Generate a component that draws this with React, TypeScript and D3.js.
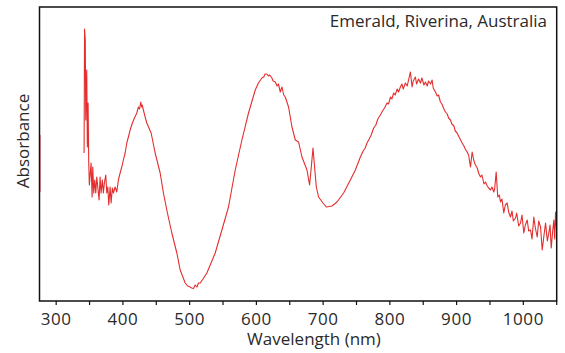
import React from "react";
import * as d3 from "d3";

const title = "Emerald, Riverina, Australia";
const xLabel = "Wavelength (nm)";
const yLabel = "Absorbance";
const xTicks = [300, 400, 500, 600, 700, 800, 900, 1000];
const xMinorTicks = [350, 450, 550, 650, 750, 850, 950, 1050];

// short segment visible on the left frame edge
const edgeWavelength = [275.4, 275.4];
const edgeAbsorbance = [1.66, 1.09];

const wavelength = [
  341.8, 342.5, 343.6, 344.3, 345.8, 346.7, 347.8, 348.8, 349.7, 352.3, 353.8, 354.8, 356.3, 357.8, 359.3, 360.8,
  364.3, 365.8, 367.3, 369.2, 370.7, 372.2, 374.3, 375.8, 377.3, 378.8, 380.8, 382.3, 384.2, 385.7, 388.3, 390.8,
  393.2, 395.8, 398.3, 400.7, 403.3, 405.8, 408.2, 410.8, 414.2, 417.2, 420.8, 423.2, 425, 426.8, 428, 428.8, 430.7,
  433.3, 435.8, 442.3, 448.3, 455.8, 460.7, 466.7, 473.3, 480.8, 485.8, 493.3, 497, 500.8, 503, 505.7, 508.3, 511, 513.2,
  515.8, 520, 525.8, 538.3, 548.3, 558.2, 568.3, 578.3, 588.2, 598.3, 603, 608.3, 611, 613, 615.8, 618, 620, 623.3,
  625, 628.3, 631, 633, 635.8, 638.3, 641, 643.3, 648.2, 653.3, 658.3, 663.2, 668.3, 675.8, 679.7, 682.3, 684.8,
  687.2, 689.8, 693.2, 699.8, 704.8, 713.3, 720.8, 730.7, 740.8, 748.3, 755.8, 760, 763, 765.8, 769, 772, 775.7,
  779, 782, 785.8, 789, 792, 795.8, 798, 801, 803, 805.7, 808, 811, 813, 815.8, 818, 820, 823.3, 826, 828, 830.8,
  833.3, 835, 838.3, 840, 843, 845.8, 848, 851, 853.3, 856, 858, 861, 863.3, 865, 868.3, 871, 873, 875.8, 878, 881,
  883.3, 886, 888, 890.8, 893, 896, 898, 900.8, 903, 906, 908.3, 911, 913, 915.8, 918, 920.8, 923.3, 926, 928.3,
  931, 933, 935.8, 938, 941, 943.3, 946, 948, 950.8, 953, 955.7, 957, 959.3, 961.7, 964, 965.8, 968, 970.7, 973,
  975.8, 978, 980.8, 983, 985, 988.3, 990, 993, 995.8, 998, 1000.7, 1003, 1005.8, 1008, 1010.8, 1013, 1015.7, 1018,
  1020.8, 1023, 1025.8, 1028.3, 1031, 1033.3, 1036, 1038.2, 1040, 1041.8, 1044, 1045.7, 1047, 1048.3, 1050,
];

const absorbance = [
  1.48, 2.72, 2.61, 1.81, 2.31, 1.54, 1.98, 1.38, 1.16, 1.38, 1.04, 1.34, 1.08, 1.21, 1.08, 1.24,
  1.01, 1.24, 1.08, 1.21, 1.08, 1.18, 1.26, 1.08, 1.14, 0.96, 1.14, 0.98, 1.13, 1.08, 1.14, 1.09,
  1.21, 1.28, 1.34, 1.41, 1.48, 1.58, 1.64, 1.71, 1.78, 1.83, 1.88, 1.94, 1.92, 1.99, 1.94, 1.96, 1.91,
  1.84, 1.78, 1.68, 1.48, 1.28, 1.08, 0.88, 0.68, 0.48, 0.31, 0.18, 0.15, 0.14, 0.13, 0.125, 0.16, 0.14, 0.18,
  0.18, 0.22, 0.28, 0.48, 0.71, 0.94, 1.31, 1.61, 1.88, 2.11, 2.18, 2.23, 2.24, 2.27, 2.27, 2.25, 2.26, 2.23,
  2.2, 2.19, 2.15, 2.17, 2.09, 2.14, 2.06, 2.04, 1.94, 1.74, 1.61, 1.59, 1.44, 1.31, 1.16, 1.34, 1.53,
  1.34, 1.14, 1.04, 0.98, 0.94, 0.95, 0.99, 1.08, 1.21, 1.31, 1.44, 1.5, 1.53, 1.58, 1.62, 1.66, 1.73,
  1.76, 1.82, 1.86, 1.9, 1.93, 1.98, 1.97, 2.04, 2.02, 2.08, 2.06, 2.12, 2.09, 2.14, 2.17, 2.12, 2.18, 2.15, 2.21, 2.29,
  2.14, 2.2, 2.24, 2.17, 2.22, 2.18, 2.23, 2.16, 2.19, 2.15, 2.2, 2.17, 2.21, 2.13, 2.09, 2.05, 2.06, 1.99, 1.97, 1.92,
  1.89, 1.87, 1.83, 1.81, 1.77, 1.75, 1.7, 1.68, 1.65, 1.61, 1.58, 1.55, 1.52, 1.49, 1.46, 1.34, 1.49, 1.4, 1.36,
  1.33, 1.28, 1.24, 1.26, 1.17, 1.19, 1.15, 1.13, 1.11, 1.14, 1.09, 1.12, 1.29, 1.04, 1.06, 0.99, 1.02, 0.88, 0.96,
  0.98, 0.89, 0.84, 0.9, 0.8, 0.83, 0.88, 0.75, 0.78, 0.86, 0.68, 0.76, 0.81, 0.7, 0.71, 0.62, 0.84, 0.73,
  0.64, 0.8, 0.74, 0.51, 0.66, 0.78, 0.6, 0.68, 0.76, 0.53, 0.7, 0.81, 0.62, 0.89, 0.68,
];

const W = 565;
const H = 353;
const left = 39.5;
const right = 556.7;
const top = 7;
const bottom = 301;
const font = "'Open Sans', 'Liberation Sans', Arial, sans-serif";
const red = "#e42d2d";

export default function App() {
  const x = d3.scaleLinear().domain([275, 1050]).range([left, right]);
  const y = d3.scaleLinear().domain([0, 2.94]).range([bottom, top]);

  const pts = wavelength.map((w, i) => [w, absorbance[i]] as [number, number]);
  const edge = edgeWavelength.map((w, i) => [w, edgeAbsorbance[i]] as [number, number]);
  const line = d3
    .line<[number, number]>()
    .x((d) => x(d[0]))
    .y((d) => y(d[1]));

  return (
    <svg
      width={W}
      height={H}
      style={{ position: "absolute", left: 0, top: 0, background: "#fff" }}
    >
      <defs>
        <clipPath id="plotclip">
          <rect x={left} y={top} width={right - left} height={bottom - top} />
        </clipPath>
      </defs>
      <g clipPath="url(#plotclip)">
        <path d={line(pts) || ""} fill="none" stroke={red} strokeWidth={1.1} strokeLinejoin="round" />
        <path d={line(edge) || ""} fill="none" stroke={red} strokeWidth={1.4} />
      </g>
      <rect
        x={left}
        y={top}
        width={right - left}
        height={bottom - top}
        fill="none"
        stroke="#111"
        strokeWidth={1.5}
      />
      {xTicks.concat(xMinorTicks).map((t) => (
        <line key={"t" + t} x1={x(t)} x2={x(t)} y1={bottom} y2={bottom + 4} stroke="#111" strokeWidth={1.2} />
      ))}
      {xTicks.map((t) => (
        <text
          key={"l" + t}
          x={x(t)}
          y={325}
          textAnchor="middle"
          fontFamily={font}
          fontSize={17}
          letterSpacing={0.6}
          fill="#2a2a2a"
        >
          {t}
        </text>
      ))}
      <text x={314} y={345} textAnchor="middle" fontFamily={font} fontSize={17} fill="#2a2a2a">
        {xLabel}
      </text>
      <text
        transform={`translate(28.5,141) rotate(-90)`}
        textAnchor="middle"
        fontFamily={font}
        fontSize={17}
        fill="#2a2a2a"
      >
        {yLabel}
      </text>
      <text x={547} y={27} textAnchor="end" fontFamily={font} fontSize={17} fill="#2a2a2a">
        {title}
      </text>
    </svg>
  );
}
